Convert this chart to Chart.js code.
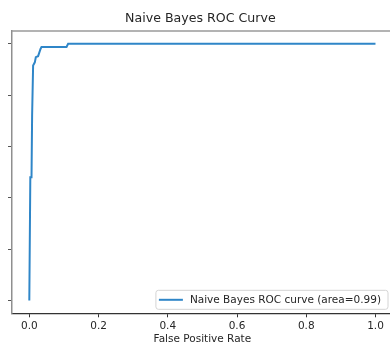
<!DOCTYPE html>
<html>
<head>
<meta charset="utf-8">
<script src="https://cdn.jsdelivr.net/npm/chart.js@4.4.0/dist/chart.umd.min.js"></script>
<style>
  html, body { margin: 0; padding: 0; background: #fff; overflow: hidden; }
  #wrap { position: relative; width: 390px; height: 345px; overflow: hidden; background: #fff; }
  #roc { position: absolute; left: 0; top: 0; }
</style>
</head>
<body>
<div id="wrap"><canvas id="roc" width="400" height="360"></canvas></div>
<script>
// Labels
const chartTitle = 'Naive Bayes ROC Curve';
const seriesLabel = 'Naive Bayes ROC curve (area=0.99)';
const xAxisTitle = 'False Positive Rate';

// ROC curve points (false positive rate, true positive rate)
const fpr = [0.0, 0.0029, 0.0064, 0.0081, 0.0110, 0.0159, 0.0188, 0.0254, 0.0324, 0.0353, 0.1075, 0.1121, 1.0];
const tpr = [0.750, 0.870, 0.870, 0.930, 0.979, 0.982, 0.987, 0.988, 0.995, 0.997, 0.997, 1.000, 1.000];

// Tick positions
const xTickValues = [0.0, 0.2, 0.4, 0.6, 0.8, 1.0];
const xTickLabels = ['0.0', '0.2', '0.4', '0.6', '0.8', '1.0'];
const yTickValues = [0.75, 0.80, 0.85, 0.90, 0.95, 1.00];

const points = fpr.map((x, i) => ({ x: x, y: tpr[i] }));

Chart.defaults.font.family = '"DejaVu Sans", sans-serif';
Chart.defaults.color = '#262626';

// Top spine of the plot frame
const frameTop = {
  id: 'frameTop',
  afterDraw(chart) {
    const { ctx, chartArea: a } = chart;
    ctx.save();
    ctx.strokeStyle = '#9a9a9a';
    ctx.lineWidth = 1.3;
    ctx.beginPath();
    ctx.moveTo(a.left, a.top);
    ctx.lineTo(a.right, a.top);
    ctx.stroke();
    ctx.restore();
  }
};

// Legend box placed in the lower-right corner of the plot area
const insetLegend = {
  id: 'insetLegend',
  afterDraw(chart) {
    const { ctx, chartArea: a } = chart;
    const ds = chart.data.datasets[0];
    ctx.save();
    ctx.font = '10.5px "DejaVu Sans", sans-serif';
    const tw = ctx.measureText(ds.label).width;
    const h = 19;
    const w = 3 + 24 + 7 + tw + 7;
    const right = a.right - 4.8;
    const bottom = a.bottom - 4;
    const left = right - w;
    const top = bottom - h;
    ctx.beginPath();
    ctx.roundRect(left, top, w, h, 2.5);
    ctx.fillStyle = 'rgba(255,255,255,0.85)';
    ctx.fill();
    ctx.strokeStyle = '#d4d4d4';
    ctx.lineWidth = 1;
    ctx.stroke();
    const cy = top + h / 2;
    ctx.beginPath();
    ctx.moveTo(left + 3, cy);
    ctx.lineTo(left + 27, cy);
    ctx.strokeStyle = ds.borderColor;
    ctx.lineWidth = ds.borderWidth;
    ctx.stroke();
    ctx.fillStyle = '#262626';
    ctx.textBaseline = 'middle';
    ctx.textAlign = 'left';
    ctx.fillText(ds.label, left + 34, cy + 0.5);
    ctx.restore();
  }
};

new Chart(document.getElementById('roc'), {
  type: 'line',
  data: {
    datasets: [{
      label: seriesLabel,
      data: points,
      borderColor: '#2f86c8',
      borderWidth: 2,
      pointRadius: 0,
      tension: 0,
      fill: false
    }]
  },
  options: {
    responsive: false,
    animation: false,
    layout: { padding: { left: 8, right: 7.2, top: 0, bottom: 14 } },
    plugins: {
      legend: { display: false },
      tooltip: { enabled: false },
      title: {
        display: true,
        text: chartTitle,
        color: '#262626',
        font: { size: 12.6, weight: 'normal' },
        padding: { top: 11, bottom: 4.9 }
      }
    },
    scales: {
      x: {
        type: 'linear',
        min: -0.05,
        max: 1.05,
        afterBuildTicks: axis => { axis.ticks = xTickValues.map(v => ({ value: v })); },
        ticks: {
          callback: (v, i) => xTickLabels[i],
          font: { size: 10.5 },
          color: '#262626',
          padding: 3,
          maxRotation: 0
        },
        grid: { display: true, drawOnChartArea: false, drawTicks: true, tickLength: 4, tickColor: '#333', tickWidth: 1 },
        border: { display: true, color: '#333', width: 1.2 },
        title: {
          display: true,
          text: xAxisTitle,
          font: { size: 10.5 },
          color: '#262626',
          padding: { top: -2.5, bottom: 0 }
        }
      },
      y: {
        type: 'linear',
        min: 0.7375,
        max: 1.0125,
        afterBuildTicks: axis => { axis.ticks = yTickValues.map(v => ({ value: v })); },
        ticks: {
          callback: () => '',
          padding: 0
        },
        grid: { display: true, drawOnChartArea: false, drawTicks: true, tickLength: 4, tickColor: '#555', tickWidth: 1 },
        border: { display: true, color: '#8f8f8f', width: 1.5 }
      }
    }
  },
  plugins: [frameTop, insetLegend]
});
</script>
</body>
</html>
